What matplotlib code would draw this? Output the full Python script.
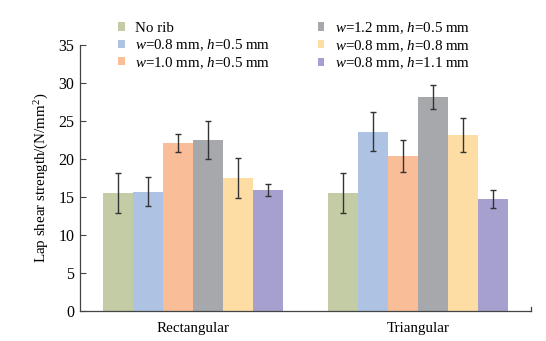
import numpy as np
import matplotlib
matplotlib.use('Agg')
import matplotlib.pyplot as plt
from matplotlib import rc

# Times-like serif text, italic w / h through mathtext
rc('font', **{'family': 'serif', 'serif': ['Liberation Serif'], 'size': 10.8})
rc('mathtext', fontset='custom', rm='Liberation Serif', it='Liberation Serif:italic')

groups = ['Rectangular', 'Triangular']
series = ['No rib',
          r'$w$=0.8 mm, $h$=0.5 mm',
          r'$w$=1.0 mm, $h$=0.5 mm',
          r'$w$=1.2 mm, $h$=0.5 mm',
          r'$w$=0.8 mm, $h$=0.8 mm',
          r'$w$=0.8 mm, $h$=1.1 mm']
colors = ['#c3cca5', '#aec3e3', '#f9bd97', '#a7a8ab', '#fddda3', '#a6a0cf']

# strength values (N/mm^2), one list per group, in series order
rect_vals = [15.5, 15.7, 22.1, 22.5, 17.5, 15.9]
tri_vals = [15.5, 23.6, 20.4, 28.2, 23.2, 14.7]
rect_err = [2.6, 1.9, 1.2, 2.5, 2.6, 0.75]
tri_err = [2.6, 2.6, 2.05, 1.6, 2.25, 1.2]

vals = np.array([rect_vals, tri_vals])
errs = np.array([rect_err, tri_err])

fig = plt.figure(figsize=(5.46, 3.41), dpi=100)
ax = fig.add_axes([0.1465, 0.088, 0.826, 0.78])

x = np.arange(len(groups))
width = 0.1333
for i, name in enumerate(series):
    pos = x + (i - 2.5) * width
    ax.bar(pos, vals[:, i], width, color=colors[i], label=name, zorder=2)
    ax.errorbar(pos, vals[:, i], yerr=errs[:, i], fmt='none', ecolor='#333333',
                elinewidth=1.0, capsize=2.5, capthick=1.0, zorder=3)

ax.set_xlim(-0.5, 1.5)
ax.set_ylim(0, 35)
ax.set_yticks(np.arange(0, 36, 5))
ax.set_xticks(x)
ax.set_xticklabels(groups)
ax.tick_params(axis='x', length=0, pad=8)
ax.tick_params(axis='y', direction='in', length=4, width=0.8, color='#444444',
               pad=4, labelsize=11.5)

ax.spines['top'].set_visible(False)
ax.spines['right'].set_bounds(0, 0.55)
for s in ['left', 'bottom', 'right']:
    ax.spines[s].set_color('#444444')
    ax.spines[s].set_linewidth(0.9)

ax.set_ylabel(r'Lap shear strength/(N/mm$^2$)', labelpad=5)

leg = ax.legend(loc='upper left', bbox_to_anchor=(0.084, 1.094), ncol=2, frameon=False,
                handlelength=0.45, handleheight=0.45, handletextpad=0.7,
                labelspacing=0.15, columnspacing=3.15, borderpad=0, borderaxespad=0)

fig.savefig('out.png', dpi=100)
